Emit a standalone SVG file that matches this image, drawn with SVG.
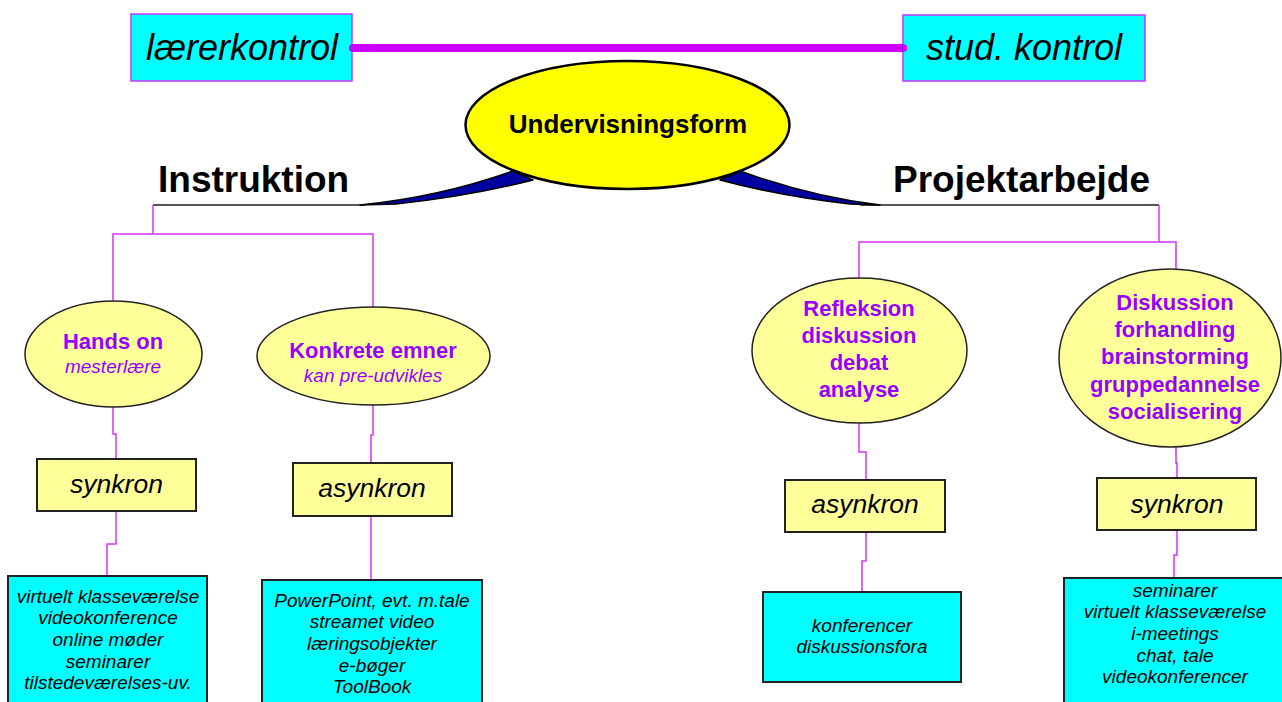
<svg xmlns="http://www.w3.org/2000/svg" width="1282" height="702" viewBox="0 0 1282 702">
  <style>
    .ctl { fill: #00ffff; stroke: #cc33ff; stroke-width: 1.5; }
    .ctlt { font-family: "Liberation Sans", Arial, sans-serif; font-style: italic; font-size: 36px; fill: #000; text-anchor: middle; }
    .head { font-family: "Liberation Sans", Arial, sans-serif; font-weight: bold; font-size: 37px; fill: #000; }
    .ell { fill: #ffff99; stroke: #222; stroke-width: 1.5; }
    .ellt { font-family: "Liberation Sans", Arial, sans-serif; font-weight: bold; font-size: 22px; fill: #9900ff; text-anchor: middle; }
    .ellsub { font-family: "Liberation Sans", Arial, sans-serif; font-style: italic; font-size: 19px; fill: #9900ff; text-anchor: middle; }
    .mode { fill: #ffff99; stroke: #222; stroke-width: 2; }
    .modet { font-family: "Liberation Sans", Arial, sans-serif; font-style: italic; font-size: 26.5px; fill: #000; text-anchor: middle; }
    .list { fill: #00ffff; stroke: #222; stroke-width: 2; }
    .listt { font-family: "Liberation Sans", Arial, sans-serif; font-style: italic; font-size: 19px; fill: #000; text-anchor: middle; }
    .link { fill: none; stroke: #d633ff; stroke-width: 1.5; }
    .bar { fill: none; stroke: #555; stroke-width: 2; }
  </style>
  <rect width="1282" height="702" fill="#fff"/>

  <!-- connectors -->
  <g id="connectors">
    <!-- branch bars under the headings -->
    <line class="bar" x1="153" y1="205" x2="365" y2="205"/>
    <line class="bar" x1="860" y1="205" x2="1159" y2="205"/>
    <!-- left branch -->
    <path class="link" d="M153,205 V234"/>
    <path class="link" d="M113,301 V234 H373 V307"/>
    <path class="link" d="M113,407 V434 H116 V459"/>
    <path class="link" d="M116,511 V544 H107 V576"/>
    <path class="link" d="M373,405 V435 H371 V463"/>
    <path class="link" d="M371,516 V580"/>
    <!-- right branch -->
    <path class="link" d="M1159,205 V242"/>
    <path class="link" d="M859,278 V242 H1176 V269"/>
    <path class="link" d="M859,423 V452 H866 V480"/>
    <path class="link" d="M866,532 V561 H862 V592"/>
    <path class="link" d="M1176,447 V463 H1177 V478"/>
    <path class="link" d="M1177,530 V555 H1174 V578"/>
  </g>

  <!-- control axis -->
  <g id="axis">
    <rect class="ctl" x="131" y="14" width="221" height="67"/>
    <text class="ctlt" x="242" y="60">lærerkontrol</text>
    <rect class="ctl" x="903" y="15" width="242" height="66"/>
    <text class="ctlt" x="1024" y="60">stud. kontrol</text>
    <line x1="353" y1="48" x2="903" y2="48" stroke="#cc00ff" stroke-width="8" stroke-linecap="round"/>
  </g>

  <!-- central topic with its two tails -->
  <g id="undervisningsform">
    <path d="M513,171 Q440,197 360,205 L396,204 Q470,196 533,180 Z" fill="#0000a0" stroke="#000" stroke-width="1.5" stroke-linejoin="round"/>
    <path d="M740,171 Q812,197 880,205 L850,204 Q780,196 720,180 Z" fill="#0000a0" stroke="#000" stroke-width="1.5" stroke-linejoin="round"/>
    <ellipse cx="627.5" cy="125" rx="162" ry="64" fill="#ffff00" stroke="#000" stroke-width="2.5"/>
    <text x="628" y="133" font-family="Liberation Sans, Arial, sans-serif" font-weight="bold" font-size="26" text-anchor="middle">Undervisningsform</text>
  </g>

  <g id="instruktion">
    <text class="head" x="158" y="192">Instruktion</text>
  </g>
  <g id="projektarbejde">
    <text class="head" x="893" y="192">Projektarbejde</text>
  </g>

  <!-- Instruktion branch -->
  <g id="hands-on">
    <ellipse class="ell" cx="113.5" cy="354" rx="88.5" ry="53"/>
    <text class="ellt" x="113" y="349">Hands on</text>
    <text class="ellsub" x="113" y="373">mesterlære</text>
  </g>
  <g id="konkrete-emner">
    <ellipse class="ell" cx="373.5" cy="356" rx="116.5" ry="49"/>
    <text class="ellt" x="373" y="358">Konkrete emner</text>
    <text class="ellsub" x="373" y="382">kan pre-udvikles</text>
  </g>
  <g id="synkron-1">
    <rect class="mode" x="37" y="459" width="159" height="52"/>
    <text class="modet" x="116.5" y="493">synkron</text>
  </g>
  <g id="asynkron-1">
    <rect class="mode" x="293" y="463" width="159" height="53"/>
    <text class="modet" x="372" y="497">asynkron</text>
  </g>
  <g id="tools-1">
    <rect class="list" x="8" y="576" width="199" height="140"/>
    <text class="listt" x="108" y="603">virtuelt klasseværelse</text>
    <text class="listt" x="108" y="624">videokonference</text>
    <text class="listt" x="108" y="646">online møder</text>
    <text class="listt" x="108" y="668">seminarer</text>
    <text class="listt" x="108" y="689">tilstedeværelses-uv.</text>
  </g>
  <g id="tools-2">
    <rect class="list" x="262" y="580" width="220" height="136"/>
    <text class="listt" x="372" y="607">PowerPoint, evt. m.tale</text>
    <text class="listt" x="372" y="628">streamet video</text>
    <text class="listt" x="372" y="650">læringsobjekter</text>
    <text class="listt" x="372" y="672">e-bøger</text>
    <text class="listt" x="372" y="693">ToolBook</text>
  </g>

  <!-- Projektarbejde branch -->
  <g id="refleksion">
    <ellipse class="ell" cx="859.5" cy="350.5" rx="107.5" ry="72.5"/>
    <text class="ellt" x="859" y="316">Refleksion</text>
    <text class="ellt" x="859" y="343">diskussion</text>
    <text class="ellt" x="859" y="370">debat</text>
    <text class="ellt" x="859" y="397">analyse</text>
  </g>
  <g id="diskussion">
    <ellipse class="ell" cx="1170" cy="358" rx="111" ry="89"/>
    <text class="ellt" x="1175" y="310">Diskussion</text>
    <text class="ellt" x="1175" y="337">forhandling</text>
    <text class="ellt" x="1175" y="364">brainstorming</text>
    <text class="ellt" x="1175" y="392">gruppedannelse</text>
    <text class="ellt" x="1175" y="419">socialisering</text>
  </g>
  <g id="asynkron-2">
    <rect class="mode" x="785" y="480" width="160" height="52"/>
    <text class="modet" x="865" y="513">asynkron</text>
  </g>
  <g id="synkron-2">
    <rect class="mode" x="1097" y="478" width="159" height="52"/>
    <text class="modet" x="1177" y="513">synkron</text>
  </g>
  <g id="tools-3">
    <rect class="list" x="763" y="592" width="198" height="90"/>
    <text class="listt" x="862" y="632">konferencer</text>
    <text class="listt" x="862" y="653">diskussionsfora</text>
  </g>
  <g id="tools-4">
    <rect class="list" x="1064" y="578" width="240" height="140"/>
    <text class="listt" x="1175" y="597">seminarer</text>
    <text class="listt" x="1175" y="618">virtuelt klasseværelse</text>
    <text class="listt" x="1175" y="640">i-meetings</text>
    <text class="listt" x="1175" y="662">chat, tale</text>
    <text class="listt" x="1175" y="683">videokonferencer</text>
  </g>
</svg>
